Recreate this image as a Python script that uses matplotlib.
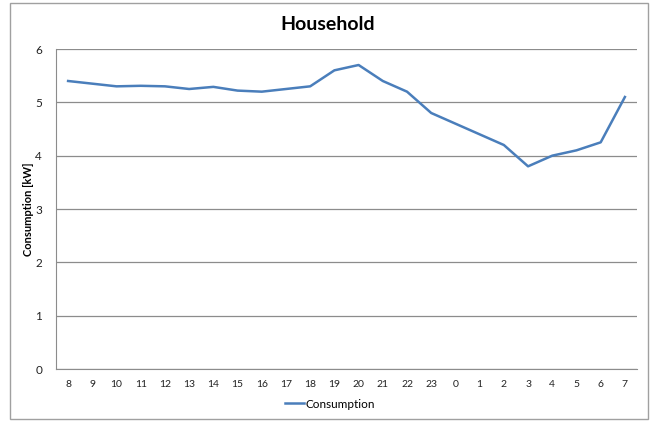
import matplotlib
matplotlib.use("Agg")
import matplotlib.pyplot as plt
from matplotlib.patches import Rectangle

plt.rcParams['font.family'] = ['Lato', 'DejaVu Sans']

hours = ["8", "9", "10", "11", "12", "13", "14", "15", "16", "17", "18", "19",
         "20", "21", "22", "23", "0", "1", "2", "3", "4", "5", "6", "7"]
consumption = [5.4, 5.35, 5.3, 5.31, 5.3, 5.25, 5.29, 5.22, 5.2, 5.25, 5.3, 5.6,
               5.7, 5.4, 5.2, 4.8, 4.6, 4.4, 4.2, 3.8, 4.0, 4.1, 4.25, 5.1]
yticks = [0, 1, 2, 3, 4, 5, 6]

W, H = 651, 422
fig = plt.figure(figsize=(W / 100, H / 100), dpi=100)
fig.patches.append(Rectangle((10 / W, 3 / H), 638 / W, 416 / H, transform=fig.transFigure,
                             fill=False, edgecolor='#a0a0a0', linewidth=1.0))

ax = fig.add_axes([56 / W, (H - 369) / H, (637 - 56) / W, (369 - 49) / H])
x = list(range(len(hours)))
ax.plot(x, consumption, color='#4a7ebb', linewidth=1.8, label='Consumption')
ax.set_xlim(-0.5, len(hours) - 0.5)
ax.set_ylim(0, 6)
ax.set_yticks(yticks)
ax.set_yticklabels([str(v) for v in yticks], fontsize=8.5, color='#222222')
ax.set_xticks(x)
ax.set_xticklabels(hours, fontsize=7.5, color='#222222')
ax.tick_params(axis='both', length=0, pad=8)
ax.tick_params(axis='y', pad=10)
ax.grid(axis='y', color='#8c8c8c', linewidth=0.9)
ax.set_axisbelow(True)
for s in ['top', 'right']:
    ax.spines[s].set_visible(False)
ax.spines['left'].set_color('#8c8c8c')
ax.spines['bottom'].set_color('#8c8c8c')

fig.text(29 / W, (H - 209) / H, 'Consumption [kW]', rotation=90, fontsize=8,
         fontweight='bold', ha='center', va='center')
fig.text(328 / W, (H - 25) / H, 'Household', fontsize=14, fontweight='bold',
         ha='center', va='center')

fig.legend(loc='center', bbox_to_anchor=(330 / W, (H - 404) / H), frameon=False,
           fontsize=8.5, handlelength=1.6, handletextpad=0.1)

fig.savefig('out.png', dpi=100)
